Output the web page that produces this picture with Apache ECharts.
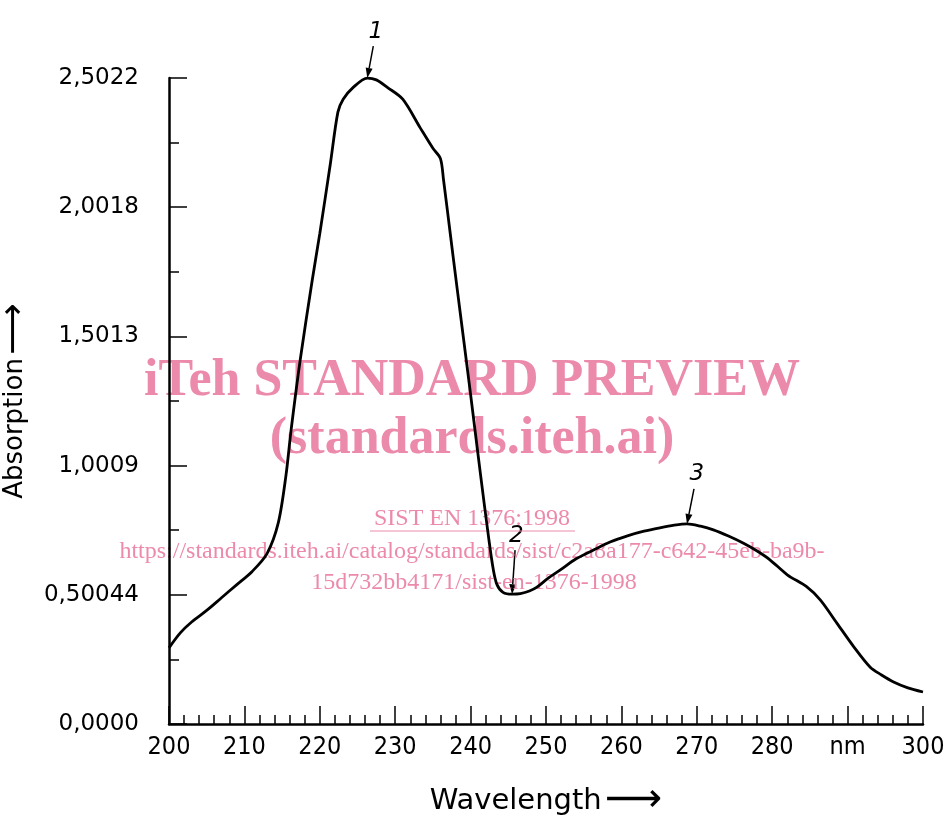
<!DOCTYPE html>
<html>
<head>
<meta charset="utf-8">
<script src="https://cdn.jsdelivr.net/npm/echarts@6/dist/echarts.min.js"></script>
<style>
  html, body { margin: 0; padding: 0; background: #fff; }
  #chart { width: 945px; height: 820px; }
</style>
</head>
<body>
<div id="chart"></div>
<script>
// spectrum
var wavelength = [200, 201.5, 203, 205, 207, 209, 211, 213, 214.5, 215.5, 216.2, 217.4, 219, 220, 221.4, 222.4, 223.1, 224.4, 226.3, 227.5, 229, 231, 233.3, 235, 236, 236.4, 237.3, 238.2, 239.9, 241.3, 242.4, 243, 243.5, 244.3, 245.5, 246.6, 247.8, 248.8, 250.3, 251.9, 254, 256.3, 258.5, 260.8, 263, 265.1, 267, 268.7, 270.5, 272.2, 274.2, 276.2, 278, 279.7, 282, 284.6, 286.4, 288.6, 290.8, 293, 294.5, 296.1, 298, 300];
var absorption = [0.295, 0.353, 0.395, 0.44, 0.49, 0.54, 0.59, 0.66, 0.78, 0.96, 1.14, 1.41, 1.72, 1.90, 2.17, 2.37, 2.42, 2.465, 2.502, 2.495, 2.465, 2.42, 2.31, 2.23, 2.19, 2.11, 1.90, 1.69, 1.30, 0.97, 0.72, 0.6, 0.54, 0.51, 0.503, 0.505, 0.515, 0.53, 0.565, 0.597, 0.64, 0.674, 0.705, 0.729, 0.747, 0.76, 0.77, 0.775, 0.766, 0.752, 0.728, 0.70, 0.67, 0.636, 0.578, 0.531, 0.48, 0.39, 0.30, 0.22, 0.19, 0.163, 0.14, 0.124];

var yStep = 0.50044;
var yTickLabels = ["0,0000", "0,50044", "1,0009", "1,5013", "2,0018", "2,5022"];

// numbered peaks / minimum
var markNames = ["1", "2", "3"];
var markX = [226.3, 245.5, 268.7];
var markY = [2.502, 0.503, 0.775];

var chart = echarts.init(document.getElementById("chart"));
var axisFont = "'DejaVu Sans', sans-serif";
var condFont = "'DejaVu Sans Condensed', 'DejaVu Sans', sans-serif";

var option = {
    animation: false,
    backgroundColor: "#fff",
    grid: { left: 169, right: 22, top: 78, bottom: 96, outerBoundsMode: "none" },
    xAxis: {
        type: "value",
        min: 200,
        max: 300,
        interval: 10,
        name: "{t|Wavelength} {a|\u27F6}",
        nameLocation: "middle",
        nameGap: 57,
        nameTextStyle: {
            color: "#000",
            rich: {
                t: { fontSize: 29, fontFamily: axisFont, color: "#000" },
                a: { fontSize: 40, fontFamily: axisFont, color: "#000" }
            }
        },
        axisLine: { lineStyle: { color: "#000", width: 2.5 } },
        axisTick: { inside: true, length: 18, lineStyle: { color: "#000", width: 1.5 } },
        minorTick: { show: true, splitNumber: 5, length: 9, lineStyle: { color: "#000", width: 1.5 } },
        splitLine: { show: false },
        axisLabel: {
            color: "#000",
            fontSize: 25,
            fontFamily: condFont,
            margin: 11,
            formatter: function (v) { return v === 290 ? "nm" : String(v); }
        }
    },
    yAxis: {
        type: "value",
        min: 0,
        max: 2.5022,
        interval: yStep,
        name: "{t|Absorption} {a|\u27F6}",
        nameLocation: "middle",
        nameRotate: 90,
        nameGap: 132,
        nameTextStyle: {
            color: "#000",
            rich: {
                t: { fontSize: 26, fontFamily: axisFont, color: "#000" },
                a: { fontSize: 36, fontFamily: axisFont, color: "#000" }
            }
        },
        axisLine: { show: true, lineStyle: { color: "#000", width: 2.5 } },
        axisTick: { show: true, inside: true, length: 18, lineStyle: { color: "#000", width: 1.5 } },
        minorTick: { show: true, splitNumber: 2, length: 10, lineStyle: { color: "#000", width: 1.5 } },
        splitLine: { show: false },
        axisLabel: {
            color: "#000",
            fontSize: 23,
            fontFamily: axisFont,
            margin: 30,
            formatter: function (v) { return yTickLabels[Math.round(v / yStep)] || ""; }
        }
    },
    series: [{
        type: "line",
        data: wavelength.map(function (w, i) { return [w, absorption[i]]; }),
        showSymbol: false,
        smooth: 0.3,
        clip: false,
        lineStyle: { color: "#000", width: 2.8 }
    }]
};
chart.setOption(option);

// arrows + numbers, placed through the chart's own scales
var arrowStyle = [{ dx: 6, len: 32 }, { dx: 3, len: 44 }, { dx: 7, len: 35 }];
var graphics = [];
markNames.forEach(function (n, i) {
    var tip = chart.convertToPixel({ seriesIndex: 0 }, [markX[i], markY[i]]);
    var s = arrowStyle[i];
    var start = [tip[0] + s.dx, tip[1] - s.len];
    var ang = Math.atan2(tip[1] - start[1], tip[0] - start[0]);
    var hl = 10, hw = 3.5;
    var bx = tip[0] - hl * Math.cos(ang), by = tip[1] - hl * Math.sin(ang);
    var px = -Math.sin(ang) * hw, py = Math.cos(ang) * hw;
    graphics.push({
        type: "polyline", silent: true,
        shape: { points: [start, [bx, by]] },
        style: { stroke: "#000", lineWidth: 1.5, fill: null }
    });
    graphics.push({
        type: "polygon", silent: true,
        shape: { points: [tip, [bx + px, by + py], [bx - px, by - py]] },
        style: { fill: "#000" }
    });
    graphics.push({
        type: "text", silent: true,
        x: start[0] + s.dx * 0.4, y: start[1] - 3,
        style: { text: n, fill: "#000", font: "italic 23px 'DejaVu Sans', sans-serif", align: "center", verticalAlign: "bottom" }
    });
});

// watermark
var pink = "#ec8aab";
var serif = "'Liberation Serif', 'DejaVu Serif', serif";
graphics.push(
    { type: "text", silent: true, x: 472, y: 382, style: { text: "iTeh STANDARD PREVIEW", fill: pink, font: "bold 52px " + serif, align: "center", verticalAlign: "middle" } },
    { type: "text", silent: true, x: 472, y: 440, style: { text: "(standards.iteh.ai)", fill: pink, font: "bold 52px " + serif, align: "center", verticalAlign: "middle" } },
    { type: "text", silent: true, x: 472, y: 519, style: { text: "SIST EN 1376:1998", fill: pink, font: "24px " + serif, align: "center", verticalAlign: "middle" } },
    { type: "line", silent: true, shape: { x1: 370, y1: 531, x2: 575, y2: 531 }, style: { stroke: pink, lineWidth: 1 } },
    { type: "text", silent: true, x: 472, y: 552, style: { text: "https://standards.iteh.ai/catalog/standards/sist/c2a8a177-c642-45eb-ba9b-", fill: pink, font: "24px " + serif, align: "center", verticalAlign: "middle" } },
    { type: "text", silent: true, x: 474, y: 583, style: { text: "15d732bb4171/sist-en-1376-1998", fill: pink, font: "24px " + serif, align: "center", verticalAlign: "middle" } }
);
chart.setOption({ graphic: graphics });
window.addEventListener("resize", chart.resize);
</script>
</body>
</html>
